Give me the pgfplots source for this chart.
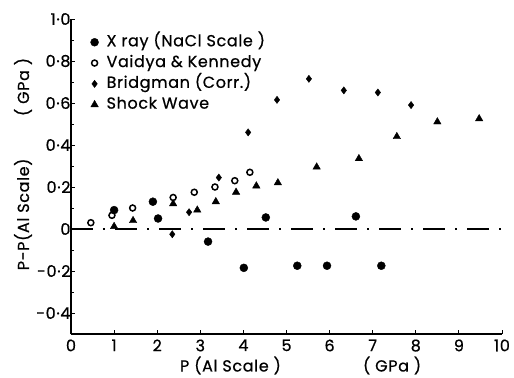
\documentclass[border=0pt]{standalone}
\usepackage{pgfplots}
\pgfplotsset{compat=1.18}
\usepackage{fontspec}
\setmainfont{Poppins}[FakeBold=0.6, LetterSpace=4]
\begin{document}
\begin{tikzpicture}
\begin{axis}[
  name=ax,
  scale only axis,
  width=431pt, height=315pt,
  xmin=0, xmax=10, ymin=-0.5, ymax=1.0,
  axis x line=bottom, axis y line=left,
  axis line style={-, line width=1.3pt},
  xtick={0,1,...,10},
  ytick={-0.4,-0.2,0,0.2,0.4,0.6,0.8,1.0},
  yticklabels={-0·4,-0·2,0,0·2,0·4,0·6,0·8,1·0},
  minor ytick={-0.5,-0.3,-0.1,0.1,0.3,0.5,0.7,0.9},
  tick align=inside,
  major tick length=4pt, minor tick length=3pt,
  tick style={line width=0.9pt, black},
  /pgf/number format/assume math mode=true,
  tick label style={font=\fontsize{16}{18}\selectfont},
  xticklabel style={yshift=-2pt},
  yticklabel style={xshift=3pt},
  clip=false,
  legend image code/.code={\draw[mark repeat=2,mark phase=2] plot coordinates {(0cm,0cm)(0.2cm,0cm)(0.4cm,0cm)};},
  legend style={draw=none, fill=none, at={(rel axis cs:0.045,0.949)}, anchor=north west,
    font=\fontsize{16}{18}\selectfont, row sep=6.8pt, column sep=8pt, inner sep=0pt,
    nodes={inner sep=0pt, text height=11pt, text depth=3pt}},
  legend cell align=left,
]
\addplot[only marks, mark=*, mark size=4pt, black] coordinates {
(1.0,0.09)(1.9,0.13)(2.02,0.05)(3.18,-0.06)(4.01,-0.185)(4.52,0.055)
(5.25,-0.175)(5.94,-0.175)(6.61,0.06)(7.2,-0.175)};
\addlegendentry{X ray (NaCl Scale )}
\addplot[only marks, mark=o, mark size=3pt, black, line width=1.5pt] coordinates {
(0.46,0.03)(0.95,0.065)(1.43,0.10)(2.37,0.15)(2.86,0.175)(3.34,0.2)(3.8,0.23)(4.15,0.27)};
\addlegendentry{Vaidya \& Kennedy}
\addplot[only marks, mark=diamond*, mark size=3.6pt, black] coordinates {
(2.35,-0.025)(2.74,0.08)(3.43,0.245)(4.11,0.46)(4.78,0.615)(5.52,0.715)(6.33,0.66)(7.12,0.65)(7.89,0.59)};
\addlegendentry{Bridgman (Corr.)}
\addplot[only marks, mark=triangle*, mark size=4.3pt, black] coordinates {
(1.0,0.012)(1.44,0.04)(2.37,0.12)(2.93,0.09)(3.36,0.13)(3.83,0.175)(4.3,0.205)(4.8,0.22)
(5.7,0.295)(6.68,0.335)(7.56,0.44)(8.5,0.51)(9.47,0.525)};
\addlegendentry{Shock Wave}
\addplot[black, line width=1.6pt, dash pattern=on 22pt off 10pt on 2pt off 10pt, forget plot] coordinates {(0,0)(10,0)};
\node[font=\fontsize{16}{18}\selectfont] at (rel axis cs:0.37,-0.1) {P (Al Scale )};
\node[font=\fontsize{16}{18}\selectfont] at (rel axis cs:0.745,-0.1) {( GPa )};
\node[font=\fontsize{16}{18}\selectfont, rotate=90, anchor=west] at ([xshift=-48pt]axis cs:0,-0.213) {P-P(Al Scale)};
\node[font=\fontsize{16}{18}\selectfont, rotate=90, anchor=west] at ([xshift=-48pt]axis cs:0,0.521) {( GPa )};
\end{axis}
\path[use as bounding box] ([xshift=-71pt,yshift=-42pt]ax.south west) rectangle ([xshift=12pt,yshift=19pt]ax.north east);
\end{tikzpicture}
\end{document}
